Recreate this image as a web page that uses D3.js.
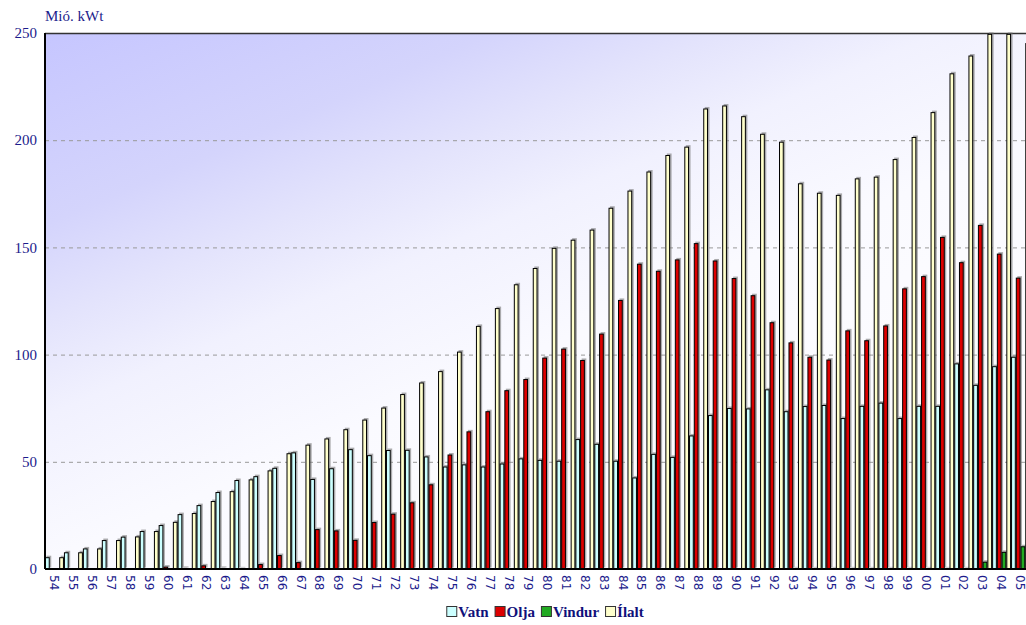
<!DOCTYPE html>
<html>
<head>
<meta charset="utf-8">
<script src="https://cdn.jsdelivr.net/npm/d3@7/dist/d3.min.js"></script>
<style>
  body { margin: 0; background: #fff; }
  .tick-y { font-family: "Liberation Serif", serif; font-size: 15px; fill: #1c1c8c; }
  .tick-x { font-family: "DejaVu Sans", sans-serif; font-size: 12px; fill: #1c1c8c; }
  .legend-text { font-family: "Liberation Serif", serif; font-size: 15px; font-weight: bold; fill: #10107a; }
</style>
</head>
<body>
<div id="chart"></div>
<script>
// years 1954 - 2005
var years = ["54","55","56","57","58","59","60","61","62","63","64","65","66","67","68","69",
             "70","71","72","73","74","75","76","77","78","79","80","81","82","83","84","85",
             "86","87","88","89","90","91","92","93","94","95","96","97","98","99","00","01",
             "02","03","04","05"];

var vatn = [5.5,7.8,9.6,13.5,15.1,17.7,
            20.5,25.6,29.8,35.9,41.5,43.3,47.2,54.4,42.0,47.0,
            55.9,53.1,55.5,55.6,52.5,47.8,48.8,47.8,49.2,51.6,
            50.9,50.5,60.6,58.4,50.5,42.7,53.7,52.3,62.3,71.8,
            75.1,74.9,83.8,73.6,76.0,76.5,70.4,76.1,77.6,70.4,
            76.1,76.1,95.9,85.9,94.6,99.0];

var olja = [0,0,0,0,0,0,
            1.1,0.5,1.7,0.5,0.3,2.3,6.5,3.2,18.6,18.0,
            13.6,21.9,25.8,31.1,39.5,53.4,64.2,73.6,83.4,88.6,
            98.6,102.8,97.5,109.8,125.5,142.4,139.1,144.4,152.0,143.9,
            135.7,127.7,115.1,105.7,99.0,97.7,111.3,106.7,113.6,130.9,
            136.6,154.9,143.1,160.5,147.1,135.9];

var vindur = [0,0,0,0,0,0,
              0,0,0,0,0,0,0,0,0,0,
              0,0,0,0,0,0,0,0,0,0,
              0,0,0,0,0,0,0,0,0,0,
              0,0,0,0.3,0.3,0.3,0.3,0.3,0.3,0.3,
              0.3,0.3,0.3,3.4,8.0,10.6];

var ialt = [5.5,7.8,9.6,13.5,15.2,17.7,
            22.0,26.1,31.7,36.3,41.8,46.0,54.0,58.0,60.9,65.2,
            69.7,75.3,81.6,87.0,92.3,101.4,113.4,121.7,132.8,140.4,
            149.8,153.6,158.3,168.5,176.5,185.4,193.1,197.0,214.8,216.2,
            211.2,203.0,199.3,179.9,175.5,174.5,182.2,183.0,191.2,201.5,
            213.1,231.2,239.5,249.6,249.6,245.3];

var seriesNames = ["Vatn", "Olja", "Vindur", "Ílalt"];
var seriesColors = ["#ccffff", "#dd0000", "#22aa22", "#ffffcc"];
var yTicks = [0, 50, 100, 150, 200, 250];

drawchart();

function drawchart() {
	var svg = d3.select("#chart")
		.append("svg")
		.attr("width", 1026)
		.attr("height", 625);

	var margin = {top: 33, left: 45},
		width = 985,
		height = 536,
		g = svg.append("g").attr("transform", "translate(" + margin.left + "," + margin.top + ")");

	// background gradient of the plot area (fades faster downwards than to the right)
	var grad = svg.append("defs").append("linearGradient")
		.attr("id", "bg")
		.attr("gradientUnits", "userSpaceOnUse")
		.attr("x1", 0).attr("y1", 0)
		.attr("x2", 347).attr("y2", 810);
	grad.append("stop").attr("offset", 0).attr("stop-color", "#c6c6ff");
	grad.append("stop").attr("offset", 0.2).attr("stop-color", "#d4d4fc");
	grad.append("stop").attr("offset", 0.3).attr("stop-color", "#e3e3fc");
	grad.append("stop").attr("offset", 0.4).attr("stop-color", "#f1f1fe");
	grad.append("stop").attr("offset", 0.55).attr("stop-color", "#fafaff");
	grad.append("stop").attr("offset", 1).attr("stop-color", "#ffffff");

	g.append("rect")
		.attr("width", width)
		.attr("height", height)
		.attr("fill", "url(#bg)");

	// scales
	var x0 = d3.scaleBand().domain(years).range([0, width]).padding(0);
	var x1 = d3.scaleBand().domain(seriesNames).range([0, x0.bandwidth()]).padding(0);
	var y = d3.scaleLinear().domain([0, 250]).range([height, 0]);

	// grid lines
	g.selectAll(".grid")
		.data(yTicks.slice(1, 5))
		.enter().append("line")
		.attr("x1", 0).attr("x2", width)
		.attr("y1", function(d) { return y(d) + 0.5; })
		.attr("y2", function(d) { return y(d) + 0.5; })
		.attr("stroke", "#999")
		.attr("stroke-dasharray", "4,4");

	g.append("line")
		.attr("x1", 0).attr("x2", width)
		.attr("y1", y(250) + 0.5).attr("y2", y(250) + 0.5)
		.attr("stroke", "#333")
		.attr("stroke-width", 1.5);

	// bar data
	var values = [vatn, olja, vindur, ialt];
	var bars = [];
	years.forEach(function(yr, i) {
		seriesNames.forEach(function(s, j) {
			if (values[j][i] > 0) bars.push({year: yr, series: s, idx: j, value: values[j][i]});
		});
	});

	var barX = function(d) { return x0(d.year) + x1(d.series); };

	// shadows
	g.selectAll(".shadow")
		.data(bars).enter().append("rect")
		.attr("class", "shadow")
		.attr("x", function(d) { return barX(d) + 1.5; })
		.attr("y", function(d) { return y(d.value) - 1.5; })
		.attr("width", x1.bandwidth())
		.attr("height", function(d) { return height - y(d.value); })
		.attr("fill", "#777")
		.attr("opacity", 0.6);

	// bars
	g.selectAll(".bar")
		.data(bars).enter().append("rect")
		.attr("class", "bar")
		.attr("x", function(d) { return barX(d) + 0.5; })
		.attr("y", function(d) { return y(d.value) + 0.5; })
		.attr("width", x1.bandwidth() - 1)
		.attr("height", function(d) { return Math.max(0, height - y(d.value) - 0.5); })
		.attr("fill", function(d) { return seriesColors[d.idx]; })
		.attr("stroke", "#000")
		.attr("stroke-width", 1);

	// axes lines
	g.append("line")
		.attr("x1", 0).attr("x2", 0)
		.attr("y1", 0).attr("y2", height)
		.attr("stroke", "#000").attr("stroke-width", 2);
	g.append("line")
		.attr("x1", 0).attr("x2", width)
		.attr("y1", height).attr("y2", height)
		.attr("stroke", "#000").attr("stroke-width", 2);

	// y tick labels
	g.selectAll(".tick-y")
		.data(yTicks).enter().append("text")
		.attr("class", "tick-y")
		.attr("x", -8)
		.attr("y", function(d) { return y(d); })
		.attr("dy", ".35em")
		.style("text-anchor", "end")
		.text(function(d) { return d; });

	// y axis title
	svg.append("text")
		.attr("class", "tick-y")
		.attr("x", 45)
		.attr("y", 21)
		.text("Mió. kWt");

	// x labels, rotated
	g.selectAll(".tick-x")
		.data(years).enter().append("text")
		.attr("class", "tick-x")
		.attr("transform", function(d) {
			return "translate(" + (x0(d) + x0.bandwidth() / 2) + "," + (height + 6) + ") rotate(90)";
		})
		.attr("dy", ".35em")
		.style("text-anchor", "start")
		.text(function(d) { return d; });

	// legend
	var legend = svg.append("g");
	var xpos = 0;
	seriesNames.forEach(function(s, i) {
		var item = legend.append("g").attr("transform", "translate(" + xpos + ",0)");
		item.append("rect")
			.attr("x", 0.5).attr("y", -10.5)
			.attr("width", 10).attr("height", 10)
			.attr("fill", seriesColors[i])
			.attr("stroke", "#333");
		var t = item.append("text")
			.attr("class", "legend-text")
			.attr("x", 12)
			.attr("y", 0)
			.text(s);
		xpos += 12 + t.node().getComputedTextLength() + 6;
	});
	legend.attr("transform", "translate(" + (545 - (xpos - 6) / 2) + ",617)");
}
</script>
</body>
</html>
